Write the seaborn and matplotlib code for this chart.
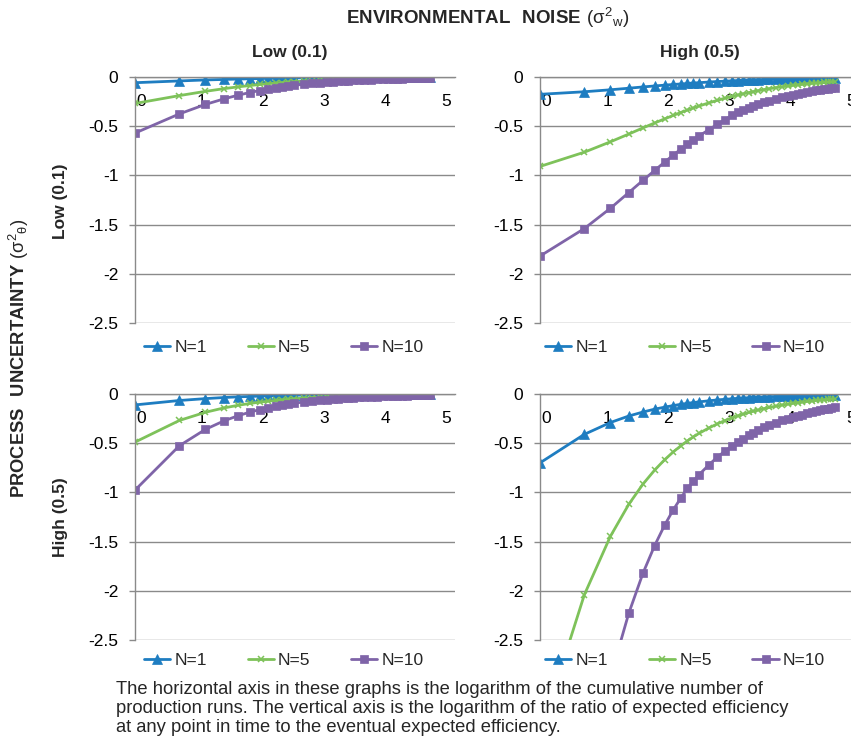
import numpy as np
import pandas as pd
import matplotlib
matplotlib.use("Agg")
import matplotlib.pyplot as plt
import matplotlib.transforms as mtransforms
import seaborn as sns

runs = [1, 2, 3, 4, 5, 6, 7, 8, 9, 10, 11, 12, 14, 16, 18, 20, 22, 24, 26, 28, 30,
        33, 36, 40, 44, 48, 52, 56, 60, 65, 70, 75, 80, 85, 90, 95, 100]
log_runs = np.log(runs)

# process uncertainty low (0.1), environmental noise low (0.1)
ll_n1 = [-0.058, -0.040, -0.030, -0.025, -0.021, -0.018, -0.016, -0.014, -0.013, -0.011, -0.010, -0.010,
         -0.008, -0.007, -0.007, -0.006, -0.006, -0.005, -0.005, -0.004, -0.004, -0.004, -0.003, -0.003,
         -0.003, -0.003, -0.002, -0.002, -0.002, -0.002, -0.002, -0.002, -0.002, -0.001, -0.001, -0.001, -0.001]
ll_n5 = [-0.269, -0.189, -0.146, -0.119, -0.100, -0.087, -0.076, -0.068, -0.062, -0.056, -0.052, -0.048,
         -0.042, -0.037, -0.033, -0.030, -0.027, -0.025, -0.023, -0.022, -0.020, -0.019, -0.017, -0.016,
         -0.014, -0.013, -0.012, -0.011, -0.010, -0.010, -0.009, -0.008, -0.008, -0.007, -0.007, -0.007, -0.006]
ll_n10 = [-0.570, -0.375, -0.279, -0.223, -0.185, -0.158, -0.138, -0.123, -0.110, -0.100, -0.092, -0.085,
          -0.073, -0.065, -0.058, -0.052, -0.048, -0.044, -0.041, -0.038, -0.035, -0.032, -0.030, -0.027,
          -0.024, -0.022, -0.021, -0.019, -0.018, -0.017, -0.015, -0.014, -0.014, -0.013, -0.012, -0.011, -0.011]

# process low (0.1), noise high (0.5)
lh_n1 = [-0.176, -0.150, -0.130, -0.114, -0.101, -0.091, -0.083, -0.076, -0.071, -0.066, -0.061, -0.058,
         -0.051, -0.046, -0.042, -0.039, -0.036, -0.033, -0.031, -0.029, -0.027, -0.025, -0.023, -0.021,
         -0.019, -0.018, -0.017, -0.016, -0.015, -0.014, -0.013, -0.012, -0.011, -0.011, -0.010, -0.010, -0.009]
lh_n5 = [-0.909, -0.764, -0.659, -0.580, -0.517, -0.467, -0.426, -0.391, -0.361, -0.336, -0.314, -0.295,
         -0.263, -0.237, -0.215, -0.198, -0.183, -0.170, -0.159, -0.149, -0.140, -0.129, -0.119, -0.108,
         -0.099, -0.092, -0.085, -0.080, -0.075, -0.069, -0.065, -0.061, -0.057, -0.054, -0.051, -0.048, -0.046]
lh_n10 = [-1.82, -1.54, -1.335, -1.175, -1.05, -0.95, -0.865, -0.795, -0.735, -0.685, -0.64, -0.60,
          -0.535, -0.48, -0.435, -0.39, -0.36, -0.335, -0.31, -0.29, -0.275, -0.255, -0.24, -0.22,
          -0.205, -0.192, -0.18, -0.17, -0.16, -0.152, -0.145, -0.137, -0.13, -0.125, -0.12, -0.116, -0.112]

# process high (0.5), noise low (0.1)
hl_n1 = [-0.111, -0.066, -0.047, -0.036, -0.029, -0.025, -0.022, -0.019, -0.017, -0.015, -0.014, -0.013,
         -0.011, -0.010, -0.009, -0.008, -0.007, -0.007, -0.006, -0.006, -0.005, -0.005, -0.004, -0.004,
         -0.004, -0.003, -0.003, -0.003, -0.003, -0.002, -0.002, -0.002, -0.002, -0.002, -0.002, -0.002, -0.002]
hl_n5 = [-0.489, -0.269, -0.186, -0.142, -0.115, -0.096, -0.083, -0.073, -0.065, -0.059, -0.053, -0.049,
         -0.042, -0.037, -0.033, -0.030, -0.027, -0.025, -0.023, -0.021, -0.020, -0.018, -0.017, -0.015,
         -0.014, -0.012, -0.012, -0.011, -0.010, -0.009, -0.009, -0.008, -0.008, -0.007, -0.007, -0.006, -0.006]
hl_n10 = [-0.977, -0.526, -0.360, -0.274, -0.221, -0.185, -0.159, -0.140, -0.124, -0.112, -0.102, -0.094,
          -0.081, -0.071, -0.063, -0.057, -0.051, -0.047, -0.044, -0.041, -0.038, -0.034, -0.032, -0.028,
          -0.026, -0.024, -0.022, -0.020, -0.019, -0.018, -0.016, -0.015, -0.014, -0.013, -0.013, -0.012, -0.011]

# process high (0.5), noise high (0.5)
hh_n1 = [-0.700, -0.410, -0.290, -0.224, -0.183, -0.154, -0.134, -0.118, -0.105, -0.095, -0.087, -0.080,
         -0.069, -0.060, -0.054, -0.049, -0.044, -0.041, -0.038, -0.035, -0.033, -0.030, -0.027, -0.025,
         -0.022, -0.020, -0.019, -0.018, -0.016, -0.015, -0.014, -0.013, -0.012, -0.012, -0.011, -0.010, -0.010]
hh_n5 = [-3.46, -2.04, -1.448, -1.122, -0.915, -0.773, -0.669, -0.590, -0.528, -0.477, -0.435, -0.400,
         -0.345, -0.303, -0.270, -0.244, -0.222, -0.204, -0.188, -0.175, -0.164, -0.149, -0.137, -0.123,
         -0.112, -0.103, -0.095, -0.088, -0.082, -0.076, -0.071, -0.066, -0.062, -0.058, -0.055, -0.052, -0.050]
hh_n10 = [-6.9, -4.06, -2.88, -2.23, -1.82, -1.54, -1.335, -1.18, -1.06, -0.96, -0.885, -0.82,
          -0.72, -0.64, -0.58, -0.53, -0.49, -0.455, -0.42, -0.395, -0.37, -0.34, -0.32, -0.29,
          -0.265, -0.25, -0.233, -0.22, -0.21, -0.197, -0.185, -0.175, -0.165, -0.156, -0.148, -0.141, -0.135]

series_labels = ["N=1", "N=5", "N=10"]
panels = {
    ("low", "low"): [ll_n1, ll_n5, ll_n10],
    ("low", "high"): [lh_n1, lh_n5, lh_n10],
    ("high", "low"): [hl_n1, hl_n5, hl_n10],
    ("high", "high"): [hh_n1, hh_n5, hh_n10],
}

rows = []
for (proc, noise), vals in panels.items():
    for lab, ys in zip(series_labels, vals):
        for x, y in zip(log_runs, ys):
            rows.append({"process": proc, "noise": noise, "N": lab, "x": x, "y": y})
df = pd.DataFrame(rows)

sns.set_theme(style="white")
plt.rcParams["font.family"] = ["Liberation Sans", "DejaVu Sans"]
plt.rcParams["mathtext.fontset"] = "custom"
plt.rcParams["mathtext.rm"] = "Liberation Sans"
plt.rcParams["mathtext.bf"] = "Liberation Sans:bold"

palette = {"N=1": "#1e7dc1", "N=5": "#7ec25a", "N=10": "#7f64a8"}
# seaborn won't mix filled and line markers, so N=5 is switched to "x" after drawing
markers = {"N=1": "^", "N=5": "X", "N=10": "s"}
final_marker = {"N=1": "^", "N=5": "x", "N=10": "s"}
msize = {"N=1": 7, "N=5": 5, "N=10": 6}
grid_col = "#8a8a8a"

W, H = 851, 740
fig = plt.figure(figsize=(W / 100, H / 100), dpi=100)

def box(left, top):
    return [left / W, 1 - (top + 246) / H, 320 / W, 246 / H]

axes = {
    ("low", "low"): fig.add_axes(box(135, 77)),
    ("low", "high"): fig.add_axes(box(540, 77)),
    ("high", "low"): fig.add_axes(box(135, 394)),
    ("high", "high"): fig.add_axes(box(540, 394)),
}

for (proc, noise), ax in axes.items():
    sub = df[(df.process == proc) & (df.noise == noise)]
    sns.lineplot(data=sub, x="x", y="y", hue="N", hue_order=series_labels,
                 style="N", style_order=series_labels, markers=markers,
                 dashes=False, palette=palette, ax=ax, legend=False,
                 linewidth=2.0, sort=True, estimator=None)
    for line, lab in zip(ax.lines, series_labels):
        c = palette[lab]
        line.set_marker(final_marker[lab])
        line.set_markersize(msize[lab])
        line.set_markeredgecolor(c)
        line.set_markerfacecolor(c)
        line.set_markeredgewidth(1.1 if lab == "N=5" else 0.5)
    ax.set_xlim(0, 5)
    ax.set_ylim(-2.5, 0)
    ax.set_yticks([0, -0.5, -1, -1.5, -2, -2.5])
    ax.set_yticklabels(["0", "-0.5", "-1", "-1.5", "-2", "-2.5"])
    ax.set_xticks([0, 1, 2, 3, 4, 5])
    ax.set_xticklabels(["0", "1", "2", "3", "4", "5"])
    ax.set_xlabel("")
    ax.set_ylabel("")
    ax.yaxis.grid(True, color=grid_col, linewidth=1.0)
    ax.xaxis.grid(False)
    ax.set_axisbelow(True)
    for s in ["top", "right"]:
        ax.spines[s].set_visible(False)
    ax.spines["left"].set_color(grid_col)
    ax.spines["left"].set_linewidth(1.0)
    ax.spines["bottom"].set_position(("data", 0))
    ax.spines["bottom"].set_color(grid_col)
    ax.spines["bottom"].set_linewidth(1.0)
    ax.tick_params(axis="x", direction="in", length=4, width=1, color=grid_col,
                   pad=12, labelsize=12.5, labelcolor="black")
    ax.tick_params(axis="y", direction="out", length=4, width=1, color=grid_col,
                   pad=8, labelsize=12.5, labelcolor="black", left=True)
    ax.set_facecolor("white")
    leg_y = -0.098 if proc == "low" else -0.085
    leg_x = 0.028 if noise == "low" else 0.016
    ax.legend(handles=ax.lines[:3], labels=series_labels, loc="center left",
              bbox_to_anchor=(leg_x, leg_y), ncol=3, frameon=False, fontsize=12.5,
              handlelength=1.5, handletextpad=0.25, columnspacing=2.35,
              borderpad=0, borderaxespad=0)
    # Excel squeezes the x labels slightly towards the middle
    for i, lab in enumerate(ax.get_xticklabels()):
        shift = mtransforms.ScaledTranslation((6 - 3 * i) / 100, 0, fig.dpi_scale_trans)
        lab.set_transform(lab.get_transform() + shift)

def px(x, y):
    return x / W, 1 - y / H

fig.text(*px(488, 18), r"$\mathbf{ENVIRONMENTAL\ \ NOISE}\ \mathregular{(σ^2{}_w)}$",
         ha="center", va="center", fontsize=13.5)
fig.text(*px(290, 52), "Low (0.1)", ha="center", va="center", fontsize=12.5, fontweight="bold")
fig.text(*px(700, 52), "High (0.5)", ha="center", va="center", fontsize=12.5, fontweight="bold")
fig.text(*px(60, 201), "Low (0.1)", ha="center", va="center", rotation=90, fontsize=12.5, fontweight="bold")
fig.text(*px(60, 517), "High (0.5)", ha="center", va="center", rotation=90, fontsize=12.5, fontweight="bold")
fig.text(*px(19, 358), r"$\mathbf{PROCESS\ \ UNCERTAINTY}\ \mathregular{(σ^2{}_θ)}$",
         ha="center", va="center", rotation=90, fontsize=13.2)

caption = ("The horizontal axis in these graphs is the logarithm of the cumulative number of\n"
           "production runs. The vertical axis is the logarithm of the ratio of expected efficiency\n"
           "at any point in time to the eventual expected efficiency.")
fig.text(*px(116, 681), caption, ha="left", va="top", fontsize=13.2, linespacing=1.15)

fig.savefig("out.png", dpi=100)
